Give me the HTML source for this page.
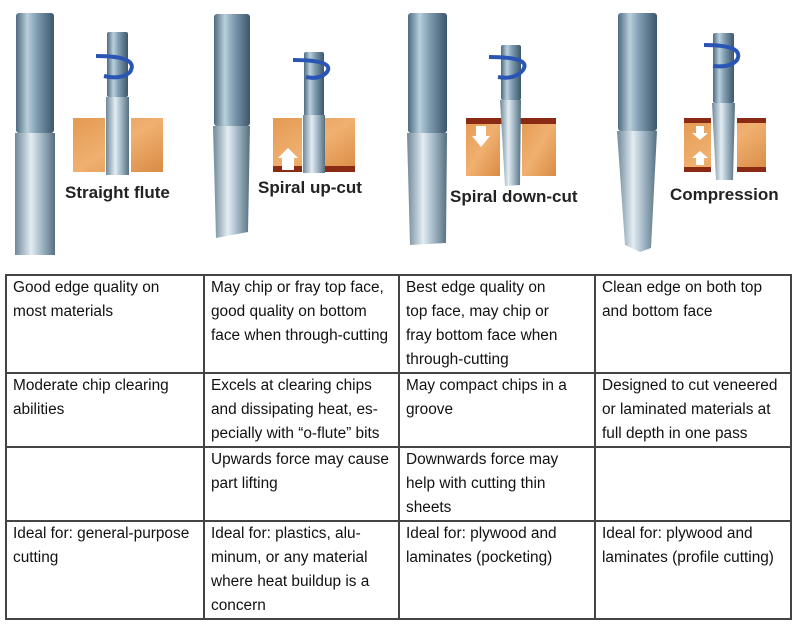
<!DOCTYPE html>
<html><head><meta charset="utf-8"><style>
body{margin:0;width:800px;height:631px;background:#fff;overflow:hidden;position:relative;font-family:"Liberation Sans",Arial,sans-serif}
svg{position:absolute;left:0;top:0}
table{position:absolute;left:5px;top:274px;border-collapse:collapse;table-layout:fixed}
td{border:2px solid #444;vertical-align:top;padding:0 4px 0 6px;font-size:15.4px;line-height:24px;color:#111;box-sizing:border-box;overflow:hidden}
.lbl{font-weight:bold;font-size:17px;fill:#222}
</style></head><body>
<svg width="800" height="270" viewBox="0 0 800 270">
<defs>
<linearGradient id="m" x1="0" x2="1"><stop offset="0" stop-color="#4d6a80"/><stop offset=".3" stop-color="#b9cfdc"/><stop offset=".55" stop-color="#7f9cb0"/><stop offset="1" stop-color="#3c566a"/></linearGradient>
<linearGradient id="f" x1="0" x2="1"><stop offset="0" stop-color="#6f8899"/><stop offset=".4" stop-color="#e3edf3"/><stop offset=".7" stop-color="#9ab0bf"/><stop offset="1" stop-color="#56707f"/></linearGradient>
<linearGradient id="w" x1="0" y1="0" x2="1" y2="1"><stop offset="0" stop-color="#e39a52"/><stop offset=".5" stop-color="#f0b070"/><stop offset="1" stop-color="#d98c45"/></linearGradient>
</defs>
<rect x="16" y="13" width="38" height="120" rx="3" fill="url(#m)"/>
<rect x="15" y="133" width="40" height="122" fill="url(#f)"/>
<rect x="73" y="118" width="90" height="54" fill="url(#w)"/>
<rect x="105" y="118" width="26" height="54" fill="#fff"/>
<rect x="107" y="32" width="21" height="65" rx="2" fill="url(#m)"/>
<rect x="106" y="97" width="23" height="78" fill="url(#f)"/>
<path d="M96 56 Q140 56 130 72 Q122 80 104 76" stroke="#2a55b5" stroke-width="4" fill="none"/>
<text x="65" y="198" class="lbl">Straight flute</text>
<rect x="214" y="14" width="36" height="112" rx="3" fill="url(#m)"/>
<path d="M213 126 L250 126 L248 232 L216 238 Z" fill="url(#f)"/>
<rect x="273" y="118" width="82" height="54" fill="url(#w)"/>
<rect x="273" y="166" width="82" height="6" fill="#8a2a15"/>
<rect x="302" y="118" width="22" height="56" fill="#fff"/>
<rect x="304" y="52" width="20" height="64" rx="2" fill="url(#m)"/>
<rect x="303" y="115" width="22" height="58" fill="url(#f)"/>
<path d="M293 60 Q335 60 327 72 Q320 80 306 77" stroke="#2a55b5" stroke-width="4" fill="none"/>
<path d="M282 170 L282 158 L278 158 L288 148 L298 158 L294 158 L294 170Z" fill="#fff"/>
<text x="258" y="193" class="lbl">Spiral up-cut</text>
<rect x="408" y="13" width="39" height="120" rx="3" fill="url(#m)"/>
<path d="M407 133 L447 133 L446 243 L410 245 Z" fill="url(#f)"/>
<rect x="466" y="118" width="34" height="58" fill="url(#w)"/>
<rect x="522" y="118" width="34" height="58" fill="url(#w)"/>
<rect x="466" y="118" width="90" height="6" fill="#8a2a15"/>
<rect x="501" y="45" width="20" height="55" rx="2" fill="url(#m)"/>
<path d="M500 100 L521 100 L520 185 L505 186 Z" fill="url(#f)"/>
<path d="M489 57 Q532 57 523 70 Q515 80 498 77" stroke="#2a55b5" stroke-width="4" fill="none"/>
<path d="M476 126 L476 136 L472 136 L481 147 L490 136 L486 136 L486 126Z" fill="#fff"/>
<text x="450" y="202" class="lbl">Spiral down-cut</text>
<rect x="618" y="13" width="39" height="118" rx="3" fill="url(#m)"/>
<path d="M617 131 L657 131 L651 248 L640 252 L625 245 Z" fill="url(#f)"/>
<rect x="684" y="118" width="82" height="54" fill="url(#w)"/>
<rect x="684" y="118" width="82" height="5" fill="#8a2a15"/>
<rect x="684" y="167" width="82" height="5" fill="#8a2a15"/>
<rect x="711" y="118" width="26" height="56" fill="#fff"/>
<rect x="713" y="33" width="21" height="70" rx="2" fill="url(#m)"/>
<path d="M712 103 L735 103 L733 180 L716 180 Z" fill="url(#f)"/>
<path d="M704 45 Q745 45 737 60 Q730 68 713 66" stroke="#2a55b5" stroke-width="4" fill="none"/>
<path d="M696 126 L696 133 L692 133 L700 140 L708 133 L704 133 L704 126Z" fill="#fff"/>
<path d="M696 165 L696 158 L692 158 L700 151 L708 158 L704 158 L704 165Z" fill="#fff"/>
<text x="670" y="200" class="lbl">Compression</text>
</svg>
<table>
<colgroup><col style="width:198px"><col style="width:195px"><col style="width:196px"><col style="width:196px"></colgroup>
<tr style="height:98px"><td>Good edge quality on<br>most materials</td><td>May chip or fray top face, good quality on bottom face when through-cutting</td><td>Best edge quality on<br>top face, may chip or<br>fray bottom face when<br>through-cutting</td><td>Clean edge on both top and bottom face</td></tr>
<tr style="height:74px"><td>Moderate chip clearing abilities</td><td>Excels at clearing chips and dissipating heat, es-pecially with “o-flute” bits</td><td>May compact chips in a groove</td><td>Designed to cut veneered or laminated materials at full depth in one pass</td></tr>
<tr style="height:72px"><td></td><td>Upwards force may cause part lifting</td><td>Downwards force may help with cutting thin sheets</td><td></td></tr>
<tr style="height:98px"><td>Ideal for: general-purpose cutting</td><td>Ideal for: plastics, alu-minum, or any material where heat buildup is a concern</td><td>Ideal for: plywood and laminates (pocketing)</td><td>Ideal for: plywood and laminates (profile cutting)</td></tr>
</table>
</body></html>
